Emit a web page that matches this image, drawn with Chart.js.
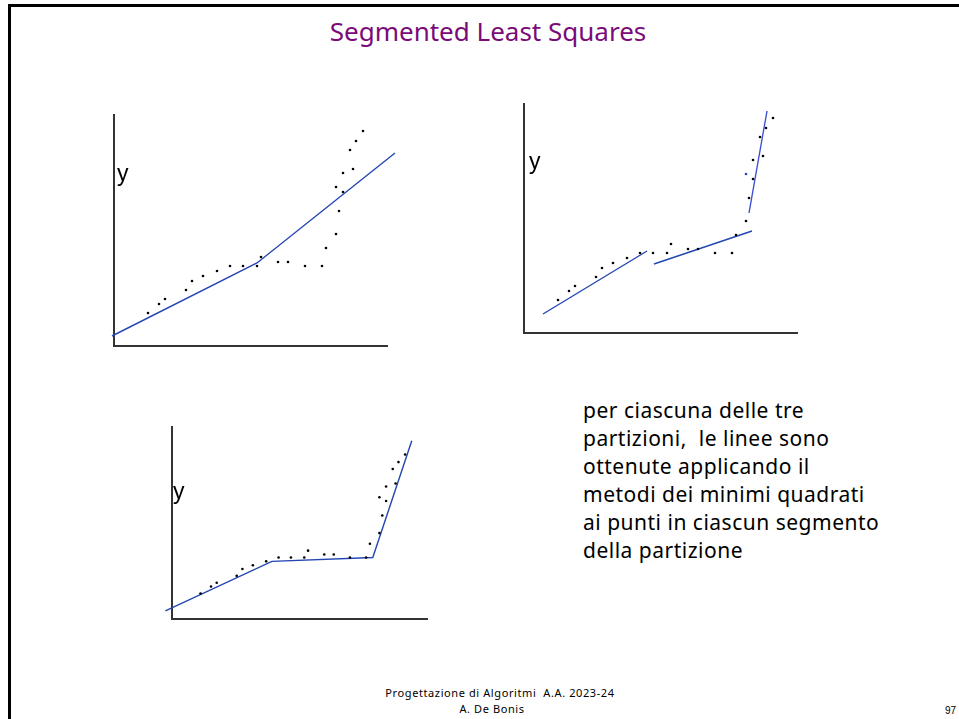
<!DOCTYPE html>
<html>
<head>
<meta charset="utf-8">
<script src="https://cdn.jsdelivr.net/npm/chart.js@4/dist/chart.umd.min.js"></script>
<style>
  body { margin: 0; background: #fff; width: 959px; height: 719px; overflow: hidden; position: relative; }
  .slide-border { position: absolute; left: 8px; top: 4px; width: 960px; height: 720px;
    border-top: 3px solid #000; border-left: 3px solid #000; box-sizing: border-box; }
  .txt { position: absolute; white-space: pre; font-family: "Comic Sans MS", "Noto Sans", sans-serif; color: #000; }
  .ylab { position: absolute; font-family: "Liberation Sans", Arial, sans-serif; font-size: 23px; line-height: 23px; }
  canvas { position: absolute; }
</style>
</head>
<body>
<div class="slide-border"></div>
<div class="txt" style="left:0;width:976px;text-align:center;top:18px;font-size:26px;line-height:26px;color:#7a0b78;">Segmented Least Squares</div>

<canvas id="g1" width="310" height="260" style="left:100px;top:100px"></canvas>
<canvas id="g2" width="300" height="250" style="left:510px;top:95px"></canvas>
<canvas id="g3" width="290" height="210" style="left:150px;top:420px"></canvas>

<div class="ylab" style="left:117px;top:162px">y</div>
<div class="ylab" style="left:529px;top:150px">y</div>
<div class="ylab" style="left:173px;top:480px">y</div>

<div class="txt" style="left:583px;top:396px;font-size:21px;line-height:28px;letter-spacing:0.5px;">per ciascuna delle tre
partizioni,  le linee sono
ottenute applicando il
metodi dei minimi quadrati
ai punti in ciascun segmento
della partizione</div>

<div class="txt" style="left:0;width:1000px;text-align:center;top:685px;font-size:11px;line-height:16px;letter-spacing:0.6px;">Progettazione di Algoritmi  A.A. 2023-24</div>
<div class="txt" style="left:0;width:984px;text-align:center;top:701px;font-size:11px;line-height:16px;letter-spacing:0.6px;">A. De Bonis</div>
<div class="txt" style="left:945px;top:704px;font-size:10px;line-height:14px;font-family:'Liberation Sans',sans-serif;">97</div>

<script>
// punti del campione (stessi per le tre partizioni)
const ptX = [34, 45, 51, 72, 78, 89, 103, 116, 129, 143, 147, 164, 174, 191, 208, 212, 222, 225, 222, 229, 229, 239, 236, 242, 249];
const ptY = [33, 42, 47, 56, 65, 70, 75, 80, 80, 80, 89, 84, 84, 80, 80, 98, 112, 135, 159, 154, 173, 177, 196, 205, 215];

// partizione 1: due segmenti continui
const fit1X = [-2, 143, 281];
const fit1Y = [10, 83, 193];

// partizione 2: tre segmenti separati
const segAX = [19, 123], segAY = [19, 82];
const segBX = [130, 228], segBY = [69, 102];
const segCX = [225, 243], segCY = [120, 222];

// partizione 3: tre segmenti continui
const fit3X = [-3, 109, 215, 256];
const fit3Y = [10, 75, 80, 233];

const BLU = '#2446b2';
const ASSE = '#333';

function toXY(xs, ys) {
    return xs.map((x, i) => ({ x: x, y: ys[i] }));
}

function datasetPunti(extra) {
    return Object.assign({
        data: toXY(ptX, ptY),
        showLine: false,
        pointRadius: 1.3,
        pointBorderWidth: 0,
        pointBackgroundColor: '#000'
    }, extra || {});
}

function datasetLinea(xs, ys, color) {
    return {
        data: toXY(xs, ys),
        showLine: true,
        borderColor: color || BLU,
        borderWidth: 1.4,
        pointRadius: 0,
        fill: false,
        tension: 0,
        clip: false
    };
}

function scala(min, max) {
    return {
        type: 'linear',
        min: min,
        max: max,
        ticks: { display: false },
        grid: { display: false, drawTicks: false },
        border: { display: true, color: ASSE, width: 2 }
    };
}

function disegna(id, datasets, xr, yr, padding) {
    return new Chart(document.getElementById(id), {
        type: 'scatter',
        data: { datasets: datasets },
        options: {
            responsive: false,
            animation: false,
            devicePixelRatio: 1,
            layout: { padding: padding },
            plugins: { legend: { display: false }, tooltip: { enabled: false } },
            scales: { x: scala(xr[0], xr[1]), y: scala(yr[0], yr[1]) }
        }
    });
}

disegna('g1',
    [datasetPunti(), datasetLinea(fit1X, fit1Y)],
    [0, 273], [0, 231],
    { left: 14, top: 15, right: 23, bottom: 14 });

disegna('g2',
    [
        // il punto coperto dalla retta appare blu
        datasetPunti({ pointBackgroundColor: ctx => ctx.dataIndex === 18 ? BLU : '#000' }),
        datasetLinea(segAX, segAY),
        datasetLinea(segBX, segBY),
        datasetLinea(segCX, segCY, '#3d4fd2')
    ],
    [0, 273], [0, 229],
    { left: 14, top: 9, right: 13, bottom: 12 });

disegna('g3',
    [datasetPunti(), datasetLinea(fit3X, fit3Y)],
    [4, 272], [-0.5, 251],
    { left: 22, top: 7, right: 13, bottom: 11 });
</script>
</body>
</html>
